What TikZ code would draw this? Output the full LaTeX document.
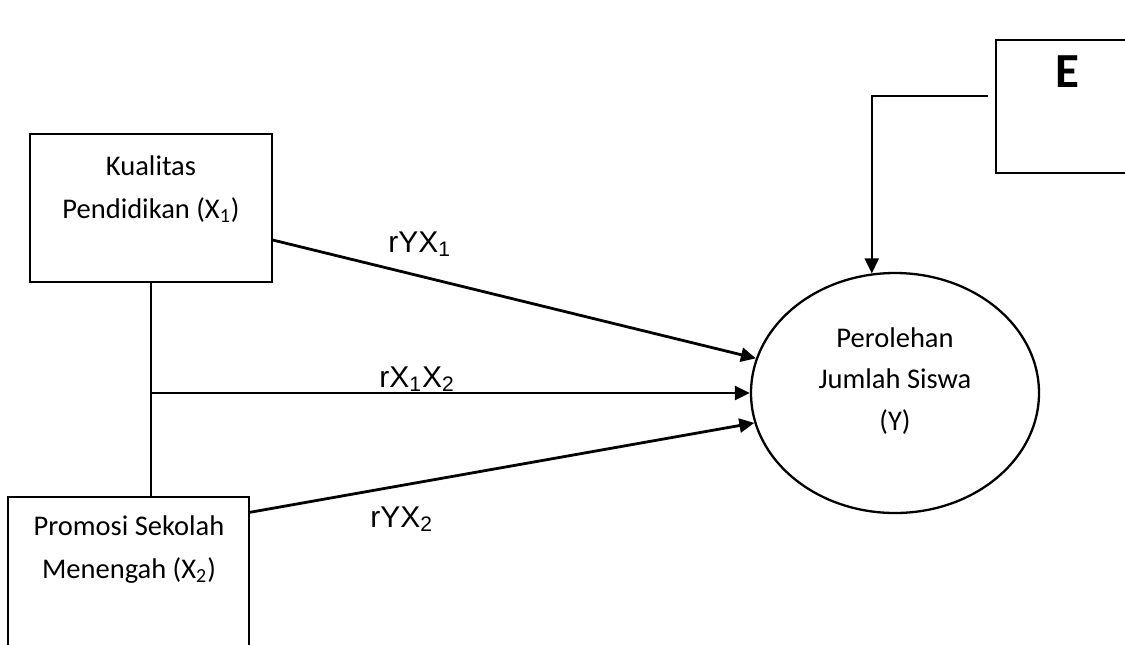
\documentclass[tikz,border=0pt]{standalone}
\usepackage{fontspec}
\setmainfont{Carlito}
\newfontfamily\arialfont{Liberation Sans}
\usetikzlibrary{arrows.meta,shapes.geometric}

\begin{document}
\begin{tikzpicture}[
  x=0.5pt, y=-0.5pt,
  pathbox/.style = {draw, line width=0.65pt, inner sep=0pt},
  pathvar/.style = {ellipse, draw, line width=1.15pt, inner sep=0pt,
                    minimum width=144pt, minimum height=120pt},
  pathtxt/.style = {align=center, inner sep=0pt, anchor=base,
                    font=\fontsize{14.25}{21.5}\selectfont},
  pathcoef/.style = {inner sep=0pt, anchor=base west,
                     font=\arialfont\fontsize{15}{17}\selectfont},
  patharrow/.style = {-{Triangle[length=7.5pt, width=7pt]}, line width=1.4pt},
  pathlink/.style = {line width=1.1pt}
]
  \clip (0,0) rectangle (1125,644);
  % variabel bebas
  \node[pathbox, minimum width=121pt, minimum height=74pt] (x1) at (151,208) {};
  \node[pathtxt] (x1txt) at (151,218) {Kualitas\\Pendidikan (X\textsubscript{1})};
  \node[pathbox, minimum width=120.5pt, minimum height=81.5pt] (x2) at (128.5,578.5) {};
  \node[pathtxt] (x2txt) at (129,578) {Promosi Sekolah\\Menengah (X\textsubscript{2})};
  % variabel terikat
  \node[pathvar] (y) at (895,393) {};
  \node[pathtxt, font=\fontsize{14.25}{20.75}\selectfont] (ytxt) at (895,430) {Perolehan\\Jumlah Siswa\\(Y)};
  % residu
  \node[pathbox, minimum width=69.5pt, minimum height=66.5pt] (e) at (1065.5,106.5) {};
  \node[pathtxt, font=\fontsize{24.5}{28}\selectfont\bfseries] (etxt) at (1067,87) {E};
  % garis korelasi dan jalur
  \draw[pathlink] (x1.south) -- (x1.south |- x2.north);
  \coordinate (jn) at (x1.south |- y.west);
  \draw[patharrow] ([yshift=-16pt]x1.east) -- (y.166);
  \draw[patharrow] (jn) -- (y.west);
  \draw[patharrow] ([yshift=-8pt]x2.north east) -- (y.192);
  \draw[patharrow, line width=1.2pt] ([xshift=-3.5pt, yshift=5.25pt]e.west) -| (y.101.5);
  % koefisien
  \node[pathcoef] (ryx1) at (388,252) {rYX\textsubscript{1}};
  \node[pathcoef] (rx1x2) at (379,387) {rX\textsubscript{1}X\textsubscript{2}};
  \node[pathcoef] (ryx2) at (370,527) {rYX\textsubscript{2}};
\end{tikzpicture}
\end{document}
